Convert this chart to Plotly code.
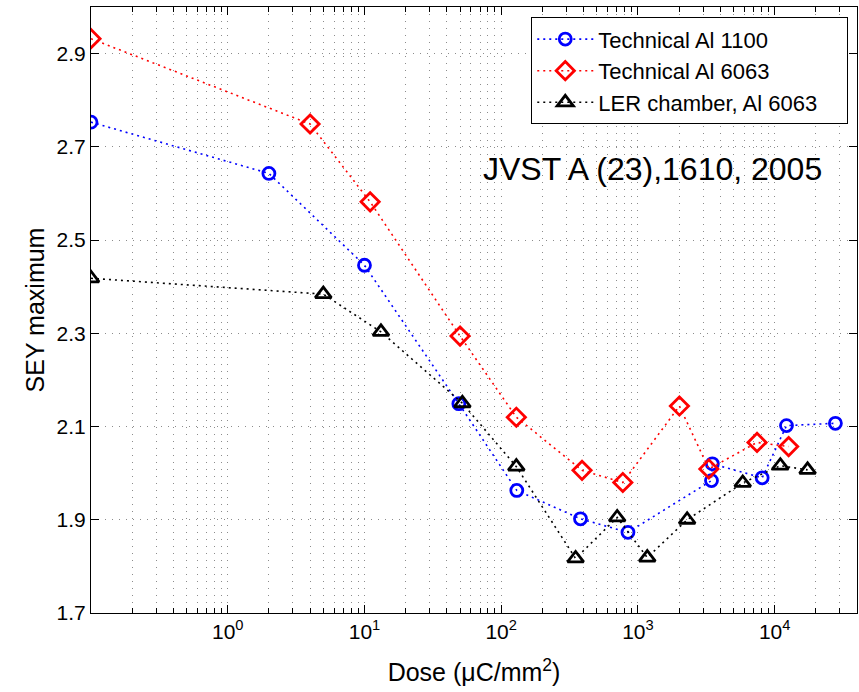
import plotly.graph_objects as go

# Dose (uC/mm^2) and SEY maximum for each sample
dose_al1100 = [0.1, 2.0, 10, 49, 130, 380, 845, 3450, 3500, 8100, 12200, 27800]
sey_al1100 = [2.753, 2.643, 2.446, 2.149, 1.963, 1.902, 1.873, 1.984, 2.020, 1.990, 2.102, 2.107]

dose_al6063 = [0.1, 4.0, 11, 50, 129, 390, 775, 2010, 3300, 7430, 12650]
sey_al6063 = [2.932, 2.749, 2.582, 2.294, 2.120, 2.006, 1.980, 2.144, 2.009, 2.066, 2.057]

dose_ler = [0.1, 5.0, 13.2, 52, 129, 350, 705, 1170, 2290, 5840, 11000, 17400]
sey_ler = [2.418, 2.384, 2.303, 2.150, 2.014, 1.817, 1.905, 1.819, 1.900, 1.979, 2.016, 2.007]

series_names = ["Technical Al 1100", "Technical Al 6063", "LER chamber, Al 6063"]

x_major = [1, 10, 100, 1000, 10000]
x_major_text = ["10<sup>0</sup>", "10<sup>1</sup>", "10<sup>2</sup>", "10<sup>3</sup>", "10<sup>4</sup>"]
y_ticks = [1.7, 1.9, 2.1, 2.3, 2.5, 2.7, 2.9]

FONT = "Liberation Sans, Arial, Helvetica, sans-serif"
PAD = "\u00a0\u00a0\u00a0\u00a0"  # keeps the legend box wide with a compact row height

# minor log grid: 2..9 in every decade
x_minor = []
for dec in [0.1, 1, 10, 100, 1000, 10000]:
    for k in range(2, 10):
        v = k * dec
        if v < 40000:
            x_minor.append(v)

fig = go.Figure()

styles = [
    (dose_al1100, sey_al1100, "#0000ff", "circle-open", 12),
    (dose_al6063, sey_al6063, "#ff0000", "diamond-open", 14),
    (dose_ler, sey_ler, "#000000", "triangle-up-open", 14),
]
for (xs, ys, col, sym, sz), name in zip(styles, series_names):
    fig.add_trace(go.Scatter(
        x=xs, y=ys, name=name + PAD, mode="lines+markers",
        line=dict(color=col, width=1.6, dash="2px,4px"),
        marker=dict(symbol=sym, size=sz, color=col, line=dict(color=col, width=2.8)),
    ))

grid_col = "#8c8c8c"
fig.update_xaxes(
    type="log", range=[-1, 4.602],
    tickvals=x_major, ticktext=x_major_text,
    ticks="inside", ticklen=8, tickwidth=1, tickcolor="black",
    showline=True, linecolor="black", linewidth=1, mirror="allticks",
    showgrid=True, gridcolor=grid_col, gridwidth=1, griddash="1px,6px",
    minor=dict(tickvals=x_minor, ticks="inside", ticklen=5, tickcolor="black",
               showgrid=True, gridcolor=grid_col, gridwidth=1, griddash="1px,6px"),
    tickfont=dict(family=FONT, size=21, color="black"),
    title=dict(text="Dose (\u03bcC/mm<sup>2</sup>)", font=dict(family=FONT, size=25, color="black"),
               standoff=21),
    zeroline=False,
)
fig.update_yaxes(
    range=[1.7, 3.0], tickvals=y_ticks, ticktext=[f"{v:.1f}" for v in y_ticks],
    ticks="inside", ticklen=8, tickwidth=1, tickcolor="black",
    showline=True, linecolor="black", linewidth=1, mirror="allticks",
    showgrid=True, gridcolor=grid_col, gridwidth=1, griddash="1px,6px",
    tickfont=dict(family=FONT, size=21, color="black"),
    title=dict(text="SEY maximum", font=dict(family=FONT, size=25, color="black"), standoff=4),
    zeroline=False,
)

fig.add_annotation(
    text="JVST A (23),1610, 2005", xref="paper", yref="paper",
    x=0.733, y=0.732, xanchor="center", yanchor="middle", showarrow=False,
    font=dict(family=FONT, size=32, color="black"),
)

fig.update_layout(
    width=859, height=692,
    margin=dict(l=91, r=2, t=7, b=79, autoexpand=False),
    paper_bgcolor="white", plot_bgcolor="white",
    font=dict(family=FONT, color="black"),
    legend=dict(
        x=0.9886, y=0.983, xanchor="right", yanchor="top",
        bgcolor="white", bordercolor="black", borderwidth=1,
        font=dict(family=FONT, size=22, color="black"),
        itemwidth=56, tracegroupgap=0,
    ),
)

fig.write_html("out.html")
